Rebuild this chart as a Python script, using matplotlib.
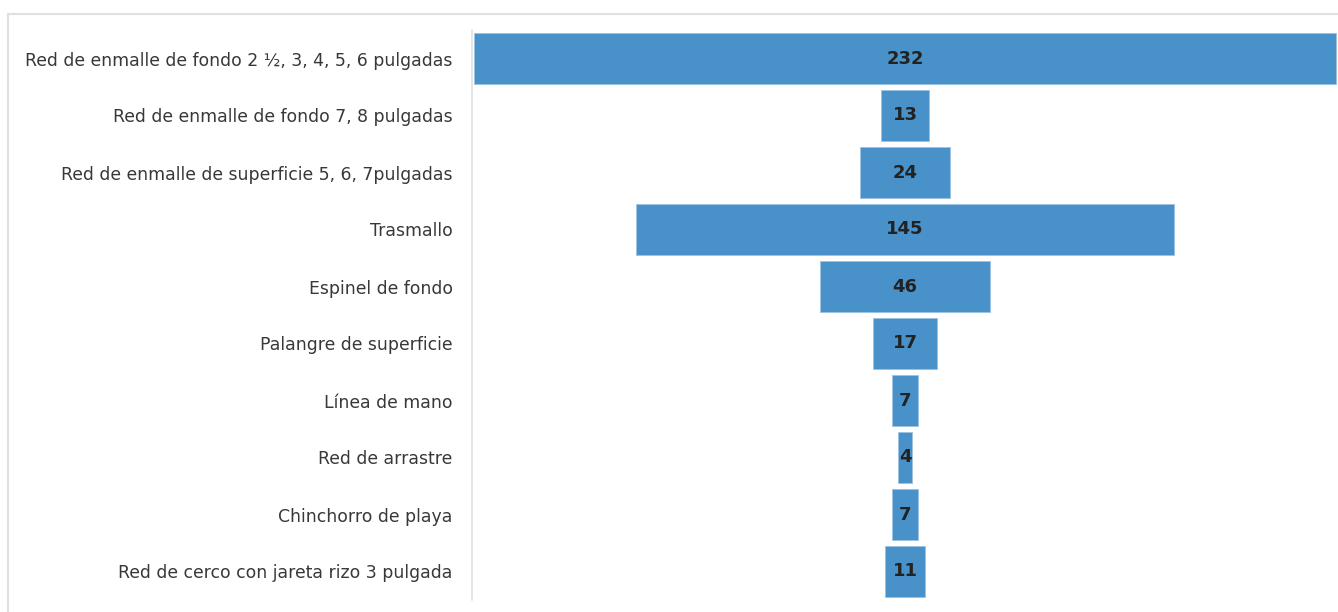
import matplotlib
matplotlib.use("Agg")
import matplotlib.pyplot as plt
from matplotlib.lines import Line2D

categories = [
    "Red de enmalle de fondo 2 ½, 3, 4, 5, 6 pulgadas",
    "Red de enmalle de fondo 7, 8 pulgadas",
    "Red de enmalle de superficie 5, 6, 7pulgadas",
    "Trasmallo",
    "Espinel de fondo",
    "Palangre de superficie",
    "Línea de mano",
    "Red de arrastre",
    "Chinchorro de playa",
    "Red de cerco con jareta rizo 3 pulgada",
]
values = [232, 13, 24, 145, 46, 17, 7, 4, 7, 11]

plt.rcParams['font.family'] = ['DejaVu Sans']

fig = plt.figure(figsize=(13.38, 6.12), dpi=100)
fig.patch.set_facecolor('white')

# panel border (top and left)
fig.add_artist(Line2D([8/1338, 1.0], [1-14/612, 1-14/612], transform=fig.transFigure,
                      color='#dfe0e6', lw=1.5))
fig.add_artist(Line2D([8/1338, 8/1338], [0, 1-14/612], transform=fig.transFigure,
                      color='#dfe0e6', lw=1.5))

ax = fig.add_axes([472/1338, 1-600/612, 1-472/1338, (600-30)/612])
ax.set_facecolor('none')

n = len(categories)
ypos = list(range(n))
lefts = [-v/2 for v in values]
ax.barh(ypos, values, left=lefts, height=0.88, color='#4891c9',
        edgecolor='#9cc3e3', linewidth=0.6)

for y, v in zip(ypos, values):
    ax.text(0, y, str(v), ha='center', va='center', fontsize=13,
            fontweight='bold', color='#222222')

ax.set_xlim(-116.5, 116.5)
ax.set_ylim(n - 0.5, -0.5)
ax.set_yticks(ypos)
ax.set_yticklabels(categories, fontsize=12.4, color='#383838')
ax.tick_params(axis='y', length=0, pad=14)
ax.set_xticks([])
for s in ['top', 'right', 'bottom']:
    ax.spines[s].set_visible(False)
ax.spines['left'].set_color('#e2e2e2')
ax.spines['left'].set_linewidth(1.2)

fig.savefig('out.png', dpi=100)
